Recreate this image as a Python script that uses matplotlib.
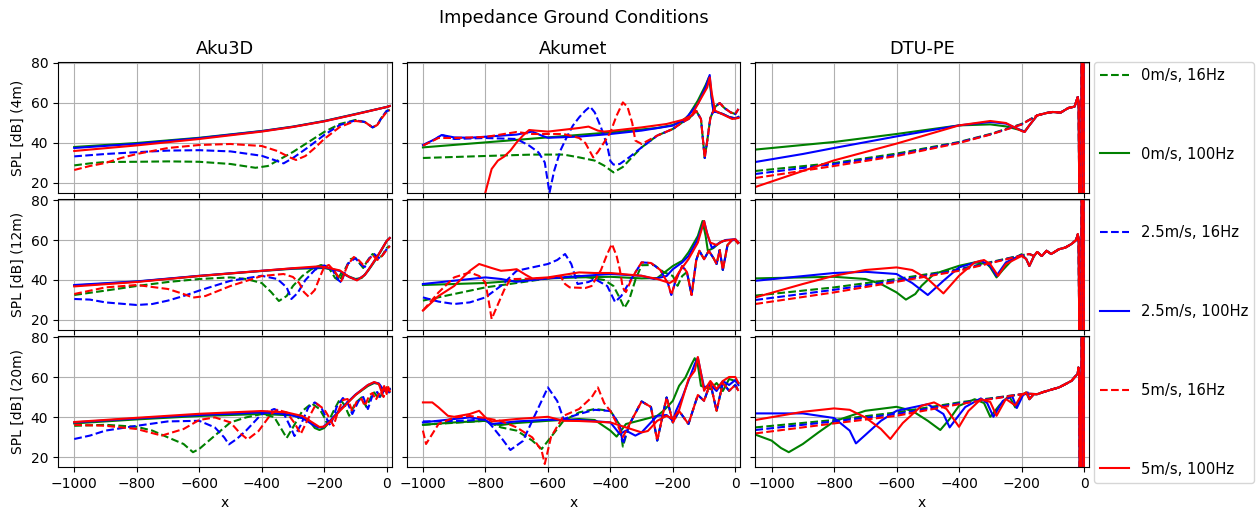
import numpy as np
import matplotlib
matplotlib.use("Agg")
import matplotlib.pyplot as plt

# ---------------- data (x, SPL) pairs ----------------
columns = ["Aku3D", "Akumet", "DTU-PE"]
rows = ["SPL [dB] (4m)", "SPL [dB] (12m)", "SPL [dB] (20m)"]
labels = ["0m/s, 16Hz", "0m/s, 100Hz", "2.5m/s, 16Hz", "2.5m/s, 100Hz", "5m/s, 16Hz", "5m/s, 100Hz"]

# ---- Aku3D 4m
A3_4_G16 = [(-1000,28.8),(-950,29.8),(-900,30.5),(-800,30.6),(-700,30.8),(-600,30.6),(-500,29.5),(-420,27.6),(-380,28.5),(-340,32),(-300,35.5),(-250,40.5),(-200,45.5),(-150,49.5),(-100,51.5),(-70,50.5),(-45,47.8),(-30,49),(-15,53),(0,56),(10,56.5)]
A3_4_G100 = [(-1000,38),(-800,40),(-600,42.6),(-400,46),(-300,48.2),(-200,51),(-100,54.5),(0,58),(10,58.5)]
A3_4_B16 = [(-1000,33.3),(-900,34.5),(-800,35.4),(-700,36.2),(-600,36.4),(-500,35.8),(-400,33.6),(-360,31.5),(-330,29.8),(-300,32.5),(-250,38),(-200,44),(-150,49),(-100,51.3),(-70,50.5),(-45,47.8),(-30,49),(-15,53),(0,56),(10,56.5)]
A3_4_B100 = [(-1000,37.5),(-800,39.6),(-600,42.4),(-400,45.9),(-300,48.1),(-200,50.9),(-100,54.4),(0,58),(10,58.5)]
A3_4_R16 = [(-1000,26.5),(-950,28.5),(-900,30),(-850,32.5),(-800,34.5),(-700,37.5),(-600,39),(-500,39.5),(-400,38.5),(-350,36),(-310,32.8),(-290,31.5),(-260,33.5),(-230,37.5),(-200,42),(-150,48),(-100,51),(-70,50.5),(-45,47.8),(-30,49),(-15,52.5),(0,55.5),(10,56.5)]
A3_4_R100 = [(-1000,36),(-800,38.8),(-600,42),(-400,45.7),(-300,48),(-200,50.8),(-100,54.3),(0,58),(10,58.5)]

# ---- Aku3D 12m
A3_12_G16 = [(-1000,32.5),(-900,34.7),(-800,37),(-700,39),(-600,40.5),(-500,41.3),(-450,40.5),(-400,38.5),(-370,34),(-345,29.5),(-320,32),(-300,37),(-270,42),(-240,45.5),(-210,47.5),(-185,46),(-165,41),(-150,39.6),(-135,45),(-115,50.5),(-100,51),(-85,48),(-75,46),(-60,50),(-45,53),(-30,51),(-15,52),(0,56),(10,57)]
A3_12_G100 = [(-1000,37.2),(-800,39.2),(-600,42),(-400,44.5),(-300,45.6),(-200,46),(-170,45),(-155,41),(-145,43.5),(-125,42),(-100,40.5),(-80,41),(-60,44.5),(-40,49),(-20,54),(0,59.5),(10,61)]
A3_12_B16 = [(-1000,30.5),(-950,30.2),(-900,28.8),(-800,27.5),(-750,28),(-700,29.7),(-650,32),(-600,34.7),(-500,39.6),(-400,42.1),(-350,40.5),(-320,36.3),(-305,30.5),(-285,33.5),(-260,40),(-230,45),(-200,47.3),(-175,45.5),(-155,40),(-145,38.8),(-125,48),(-100,51),(-85,48),(-70,46.5),(-55,51),(-40,53),(-25,51),(-10,53),(0,55.5),(10,57)]
A3_12_B100 = [(-1000,37.5),(-800,39.3),(-600,42.1),(-400,44.6),(-300,45.8),(-200,46.3),(-150,44.5),(-120,41.5),(-95,40),(-70,42.5),(-50,47),(-25,53),(0,59.5),(10,61)]
A3_12_R16 = [(-1000,33),(-900,36.3),(-800,37.5),(-700,35.5),(-650,33),(-620,31.2),(-580,32),(-500,37),(-400,42),(-330,43),(-300,41.5),(-280,38.5),(-265,34),(-250,31.7),(-230,35),(-215,41),(-200,46.5),(-185,47.5),(-165,44),(-145,39.5),(-125,47.5),(-105,51.5),(-90,50),(-75,47.5),(-60,49.5),(-45,52.5),(-30,50),(-15,52),(0,55),(10,57)]
A3_12_R100 = [(-1000,36.8),(-800,39),(-600,42),(-400,44.6),(-300,45.9),(-220,46.8),(-200,46.5),(-150,44.8),(-120,41.5),(-95,39.8),(-70,42.5),(-50,47),(-25,53),(0,59.5),(10,61)]

# ---- Aku3D 20m
A3_20_G16 = [(-1000,35.6),(-900,36.1),(-800,35.1),(-750,33.2),(-700,29.8),(-650,26.5),(-620,22.4),(-600,24),(-550,30.7),(-500,37.3),(-450,39.8),(-400,41.5),(-360,40),(-335,33.5),(-320,29.5),(-300,34.8),(-270,43),(-240,46.8),(-215,44),(-200,40),(-190,36.5),(-170,43),(-150,48.9),(-135,46),(-120,40.6),(-100,47),(-80,49.8),(-65,45),(-50,50),(-40,52.3),(-25,49),(-10,53),(0,54.8),(10,52)]
A3_20_G100 = [(-1000,36.8),(-800,38.8),(-600,40.5),(-400,41.5),(-300,40.8),(-250,38.5),(-230,34.5),(-215,33.5),(-200,34.5),(-180,38),(-150,43.5),(-100,51),(-60,55.5),(-40,57),(-25,56.5),(-10,53),(0,53),(10,54)]
A3_20_B16 = [(-1000,29),(-950,30.7),(-900,33.2),(-800,35.6),(-700,37.8),(-600,38.1),(-550,34.8),(-520,29.8),(-505,26.3),(-480,29),(-450,33.2),(-400,41.5),(-360,44),(-330,42),(-305,34),(-295,30.5),(-275,36),(-250,45),(-230,47.3),(-210,45),(-195,40),(-180,35.6),(-160,45),(-140,49.5),(-125,47),(-110,41.5),(-90,48),(-75,50),(-60,44),(-45,51),(-30,52.5),(-20,49.5),(-10,53),(0,54.5),(10,52)]
A3_20_B100 = [(-1000,37.3),(-800,39.3),(-600,41),(-400,42.3),(-320,41.5),(-270,39.5),(-240,36.5),(-220,34.8),(-205,34.8),(-185,37.5),(-150,43.5),(-100,51.2),(-60,56),(-40,57.3),(-25,56.8),(-10,53.5),(0,53.5),(10,54)]
A3_20_R16 = [(-1000,36.1),(-900,35.6),(-800,34),(-720,30.7),(-650,34),(-600,38.5),(-550,39.8),(-500,37.3),(-470,32),(-445,28.8),(-410,33),(-370,41.5),(-350,43.6),(-320,42.3),(-295,37),(-275,31.5),(-255,38),(-225,46.8),(-200,43.9),(-185,40),(-170,35.6),(-155,43),(-140,48.5),(-125,49),(-110,43),(-95,48),(-80,49),(-70,45.5),(-55,51),(-45,52),(-35,48.5),(-20,53),(-10,50),(0,54.8),(10,52)]
A3_20_R100 = [(-1000,37.5),(-800,39.6),(-600,41.6),(-400,43),(-320,42.3),(-270,40.5),(-240,37.5),(-215,35),(-200,35.2),(-180,37.8),(-150,43),(-100,51),(-60,56),(-40,57.5),(-25,56.5),(-15,52),(-8,55.5),(0,51.5),(5,55),(10,53)]

# ---- Akumet 4m
AK_4_G16 = [(-1000,32.5),(-800,33.5),(-650,34.2),(-550,34.2),(-500,32.8),(-450,31.2),(-420,28.7),(-390,25.3),(-360,28),(-330,33),(-300,37.8),(-250,43.7),(-200,47),(-170,50.3),(-150,52),(-125,56),(-110,52),(-98,32.5),(-90,41),(-80,52.5),(-65,58),(-50,60),(-35,57.5),(-15,55.3),(0,54.5),(10,57)]
AK_4_G100 = [(-1000,37.8),(-800,40.3),(-600,42.8),(-400,45.3),(-250,47.5),(-200,49),(-170,51),(-150,53.7),(-120,61.2),(-95,69),(-84,73),(-77,64),(-70,56),(-60,55.5),(-40,54.5),(-20,53),(0,52.3),(10,53)]
AK_4_B16 = [(-1000,38.7),(-960,42),(-940,44),(-900,42),(-800,42.5),(-700,42),(-660,38.7),(-630,35.3),(-610,30.3),(-600,20.3),(-595,15),(-580,26),(-560,36.2),(-540,42.8),(-520,48.7),(-500,52.8),(-480,56.2),(-465,58.2),(-450,55.3),(-430,47.8),(-410,38.7),(-400,31),(-390,29.2),(-370,29.5),(-340,32.8),(-300,37.8),(-250,43.7),(-200,47),(-170,50.3),(-150,52),(-125,56),(-110,52),(-98,32.5),(-90,41),(-80,52.5),(-65,58),(-50,60),(-35,57.5),(-15,55.3),(0,54.5),(10,57)]
AK_4_B100 = [(-1000,39),(-960,42),(-940,44),(-900,42.8),(-850,42.6),(-700,44.2),(-650,45.7),(-620,43.7),(-600,42.6),(-500,43.2),(-400,44.5),(-300,46.2),(-200,48.7),(-160,52),(-120,59.5),(-95,68),(-82,74),(-76,63),(-70,55.5),(-60,55.5),(-40,54.5),(-20,53),(0,52.3),(10,53)]
AK_4_R16 = [(-1000,38.7),(-950,42.5),(-900,42.5),(-800,43),(-700,45.5),(-650,44.5),(-550,44.5),(-500,42.5),(-480,40),(-455,32.8),(-440,35.5),(-420,40.3),(-400,45.3),(-380,53.7),(-360,60.3),(-345,58),(-330,50),(-320,41.2),(-300,39.5),(-250,43.7),(-200,47),(-170,50.3),(-150,52),(-125,56),(-110,52),(-98,32.5),(-90,41),(-80,52.5),(-65,58),(-50,60),(-35,57.5),(-15,55.3),(0,54.5),(10,57)]
AK_4_R100 = [(-805,10),(-800,15.3),(-780,27),(-760,31.2),(-740,33.2),(-720,36.2),(-700,40.3),(-680,43.7),(-660,46.5),(-640,46.2),(-600,45.7),(-500,47.5),(-470,48.2),(-440,46.2),(-420,45.7),(-400,46),(-300,47.8),(-220,49.5),(-170,51.5),(-140,53.7),(-120,59.5),(-90,67.8),(-82,72.8),(-75,64.5),(-65,56.2),(-50,55),(-30,53.5),(-10,52),(10,52.5)]

# ---- Akumet 12m
AK_12_G16 = [(-1000,29.7),(-900,33),(-800,36.3),(-700,38.5),(-600,40.8),(-500,42.1),(-420,40),(-390,37),(-370,31),(-355,26),(-340,30),(-320,40),(-300,47.4),(-260,47.5),(-230,44),(-200,42),(-185,37.1),(-170,42),(-155,44),(-140,32.5),(-125,50),(-115,54.6),(-100,50.4),(-85,54.6),(-70,51),(-60,48),(-50,55),(-40,45),(-25,57.5),(-10,60),(0,60),(10,58)]
AK_12_G100 = [(-1000,37.5),(-800,38.5),(-600,40.8),(-500,41.3),(-400,41.6),(-300,40.8),(-250,41),(-200,47),(-170,49.6),(-150,53.8),(-120,62),(-105,69.5),(-95,62),(-88,54.6),(-70,56),(-50,58.7),(-30,60),(0,60),(10,58.7)]
AK_12_B16 = [(-1000,31.3),(-950,29.2),(-900,28),(-850,28.8),(-800,31.3),(-750,37.1),(-700,44.6),(-650,46.3),(-600,48),(-570,50),(-545,53),(-525,48),(-505,38),(-470,39),(-450,40.5),(-410,37),(-385,29),(-365,32),(-330,41.3),(-300,48.8),(-270,48.5),(-240,45),(-215,38),(-205,32.5),(-190,40),(-170,47),(-155,44),(-140,32.5),(-125,50),(-115,54.6),(-100,50.4),(-85,54.6),(-70,51),(-60,48),(-50,55),(-40,45),(-25,57.5),(-10,60),(0,60),(10,58)]
AK_12_B100 = [(-1000,38),(-800,41.3),(-750,40.5),(-700,39.1),(-600,40.8),(-400,43),(-300,42.1),(-260,40.5),(-220,42),(-200,45.4),(-170,48.8),(-150,52),(-120,60.4),(-100,69.5),(-88,62),(-75,56),(-50,58.7),(-30,60),(0,60.4),(10,58.7)]
AK_12_R16 = [(-1000,24.7),(-950,33.8),(-900,41.3),(-850,43.8),(-820,42),(-800,38.8),(-790,30),(-780,20.5),(-765,26),(-740,35),(-720,40.5),(-700,40.5),(-600,41),(-560,42),(-545,38),(-530,36.3),(-480,36),(-460,37),(-430,45),(-410,53),(-395,58),(-380,52),(-370,45.4),(-360,36),(-350,34),(-330,41.3),(-300,48.8),(-270,48.5),(-240,45),(-215,38),(-205,32.5),(-190,40),(-170,47),(-155,44),(-140,32.5),(-125,50),(-115,54.6),(-100,50.4),(-85,54.6),(-70,51),(-60,48),(-50,55),(-40,45),(-25,57.5),(-10,60),(0,60),(10,58)]
AK_12_R100 = [(-1000,24.7),(-950,32),(-900,37),(-850,44.6),(-820,48),(-780,46),(-750,44.6),(-720,45),(-700,45.4),(-670,42.5),(-650,40.8),(-600,41.3),(-500,43.8),(-450,43.5),(-400,43.5),(-300,42.1),(-250,40.5),(-210,38.5),(-195,40),(-180,44),(-150,50.4),(-120,58.7),(-100,69.5),(-92,64),(-80,58.7),(-60,57.5),(-40,59.5),(0,60.4),(10,58.7)]

# ---- Akumet 20m
AK_20_G16 = [(-1000,36.1),(-800,38.1),(-750,34.8),(-700,33.2),(-650,28.2),(-620,24),(-600,28),(-550,38.1),(-500,42.3),(-450,44),(-400,43.1),(-370,36),(-360,25.2),(-340,36),(-300,47.8),(-270,45),(-250,28.2),(-220,49.8),(-200,37.3),(-180,43),(-150,36.5),(-120,51),(-100,48.1),(-80,57),(-60,43.1),(-40,57),(-20,53.1),(0,56),(10,53)]
AK_20_G100 = [(-1000,36.1),(-900,37.3),(-800,38.1),(-780,36.5),(-750,36),(-700,37),(-600,38.1),(-500,39),(-450,38.5),(-400,33.2),(-380,30.2),(-350,36.5),(-300,38.5),(-250,40.6),(-230,43.1),(-200,48.1),(-180,55.6),(-160,59.7),(-140,66.4),(-130,69.4),(-120,66),(-110,55.6),(-100,55),(-80,54),(-60,57),(-40,53),(-20,59),(0,58),(10,57)]
AK_20_B16 = [(-1000,37.8),(-900,38),(-850,38.3),(-800,39),(-780,35.6),(-750,29.8),(-720,23.5),(-680,28),(-650,38.1),(-620,48.1),(-600,54.8),(-570,48),(-550,39),(-500,41.5),(-450,43.6),(-400,43),(-370,36),(-360,26.5),(-340,36),(-300,47.8),(-270,45),(-250,28.2),(-220,49.8),(-200,37.3),(-180,43),(-150,36.5),(-120,51),(-100,48.1),(-80,57),(-60,43.1),(-40,57),(-20,53.1),(0,56),(10,53)]
AK_20_B100 = [(-1000,37.3),(-900,39),(-850,39.8),(-800,38.5),(-780,36.5),(-700,37.8),(-600,38.6),(-500,38.5),(-400,37.3),(-370,31.5),(-350,33.2),(-320,30.7),(-300,32.3),(-250,40.6),(-220,41),(-200,38.1),(-190,43),(-170,49.8),(-150,58.1),(-130,66.4),(-120,69.7),(-110,62),(-100,54.8),(-80,56),(-60,53),(-40,58),(-20,56),(0,58.5),(10,56)]
AK_20_R16 = [(-1000,33.2),(-990,26.5),(-950,36.5),(-900,39.8),(-850,40.5),(-800,39.5),(-750,38),(-700,34.8),(-650,29.8),(-620,23.2),(-610,16.5),(-590,30),(-550,40.6),(-500,44),(-460,49.8),(-440,54.8),(-420,47),(-400,43),(-380,37),(-360,30),(-340,36),(-300,47.8),(-270,45),(-250,28.2),(-220,49.8),(-200,37.3),(-180,43),(-150,36.5),(-120,51),(-100,48.1),(-80,57),(-60,43.1),(-40,57),(-20,53.1),(0,56),(10,53)]
AK_20_R100 = [(-1000,47.3),(-970,47.3),(-950,44.8),(-920,40.6),(-900,40.1),(-850,41.5),(-820,43.1),(-800,39.8),(-780,37.8),(-700,39),(-600,40.1),(-550,38.1),(-500,38),(-400,37.3),(-350,34.8),(-300,32.3),(-280,33),(-250,38.1),(-220,40.6),(-200,39),(-180,43.5),(-150,58.9),(-130,63.1),(-120,70),(-110,62),(-100,53.1),(-80,58),(-60,54),(-40,58),(-20,60),(0,60),(10,57)]

# ---- DTU-PE (shared near-source tails per receiver height)
DT_4_TAIL = [(-150,53.8),(-120,55),(-100,55.5),(-75,55.2),(-50,57.5),(-30,58.2),(-20,63),(-17,60),(-14,-20),(-9,-20),(-7,120),(-2,120),(0,-20)]
DT_4_G16 = [(-1052,26),(-800,30),(-600,34.7),(-400,40.5),(-300,44.5),(-200,49.5),(-170,52)]
DT_4_G100 = [(-1052,36.7),(-900,39),(-800,40.5),(-600,44.5),(-400,48.8),(-300,49.3),(-250,48.3),(-200,46.3),(-190,45.8),(-175,48.8)]
DT_4_B16 = [(-1052,24.5),(-800,29.5),(-600,34),(-400,40.3),(-300,44.3),(-200,49.3),(-170,52)]
DT_4_B100 = [(-1052,30.5),(-900,34.5),(-800,37.5),(-600,43.3),(-400,48.8),(-300,50.5),(-250,49.7),(-200,46.3),(-190,45.5),(-175,48.8)]
DT_4_R16 = [(-1052,22.5),(-800,28.5),(-600,33.5),(-400,40),(-300,44.2),(-200,49.2),(-170,52)]
DT_4_R100 = [(-1052,18),(-900,26),(-800,31.3),(-600,39.7),(-400,48.8),(-300,51),(-250,50),(-200,46),(-190,45.5),(-175,48.8)]

DT_12_TAIL = [(-160,52),(-150,54),(-135,52),(-120,54.6),(-105,53),(-80,55.4),(-60,56.2),(-40,58),(-25,60),(-20,62.9),(-17,60),(-14,-20),(-9,-20),(-7,120),(-2,120),(0,-20)]
DT_12_G16 = [(-1052,32.2),(-800,36.3),(-600,40.5),(-400,45.4),(-200,52.4),(-175,53)]
DT_12_G100 = [(-1052,40.8),(-900,41.3),(-800,41.6),(-700,40.5),(-650,38),(-600,33.8),(-570,30.2),(-540,33),(-520,37.1),(-480,43),(-400,47.1),(-350,48.8),(-310,48),(-300,46.3),(-280,41.3),(-260,45),(-230,50),(-200,52.9),(-185,50.5),(-175,47)]
DT_12_B16 = [(-1052,30),(-800,35.1),(-600,39.6),(-400,45),(-200,52.3),(-175,53)]
DT_12_B100 = [(-1052,39.6),(-800,43.5),(-700,44.1),(-600,43),(-550,38.5),(-500,32.5),(-450,39.6),(-400,46.3),(-330,49.6),(-300,47.1),(-280,42.1),(-250,48.8),(-200,52.5),(-185,50.5),(-175,47)]
DT_12_R16 = [(-1052,28),(-800,33.8),(-600,39.1),(-400,44.6),(-200,52.2),(-175,53)]
DT_12_R100 = [(-1052,31.3),(-900,38),(-800,42.1),(-700,45),(-600,46.3),(-550,45),(-500,40.5),(-450,33.3),(-400,42.1),(-350,48.8),(-320,50),(-300,47.9),(-275,42.1),(-250,48),(-200,52),(-185,50.5),(-175,47)]

DT_20_TAIL = [(-160,51.5),(-150,51.4),(-130,52.5),(-100,53.9),(-80,54.8),(-60,56.4),(-40,58.1),(-20,61.7),(-18,64.7),(-15,60),(-13,-20),(-9,-20),(-7,120),(-2,120),(0,-20)]
DT_20_G16 = [(-1052,34.8),(-800,38.5),(-600,42.3),(-400,47.3),(-200,51.4),(-175,51.6)]
DT_20_G100 = [(-1052,31.2),(-1000,28.2),(-970,24.5),(-945,22.4),(-900,26.5),(-850,32.3),(-800,37.8),(-700,43.1),(-600,45.1),(-550,43.1),(-500,38.1),(-460,33.5),(-430,39),(-400,45.6),(-350,48.9),(-320,47),(-300,40.1),(-270,46),(-240,50.6),(-220,44.8),(-200,51),(-185,52.3),(-175,48.9)]
DT_20_B16 = [(-1052,33.5),(-800,37.8),(-600,41.5),(-400,46.8),(-200,51.4),(-175,51.6)]
DT_20_B100 = [(-1052,41.8),(-900,41.8),(-800,39.5),(-750,33.2),(-730,26.8),(-700,31),(-650,38.1),(-600,43.1),(-500,46.4),(-450,41.5),(-430,34.8),(-400,41),(-380,45),(-330,49.3),(-310,47),(-290,40.1),(-260,48),(-230,50.5),(-215,44.5),(-195,51),(-180,52.3),(-175,48.9)]
DT_20_R16 = [(-1052,31.8),(-800,36.8),(-600,40.6),(-400,46.4),(-200,51.4),(-175,51.6)]
DT_20_R100 = [(-1052,38.5),(-900,42.6),(-800,44.3),(-750,43.6),(-700,39.8),(-650,34),(-620,29),(-580,37),(-520,45.6),(-480,47.3),(-440,44),(-400,35.1),(-370,43),(-330,48.9),(-300,47.5),(-280,40.6),(-250,49),(-220,45.8),(-200,51),(-185,52.3),(-175,48.9)]

# ---------------- assemble ----------------
panels = [
    [[A3_4_G16, A3_4_G100, A3_4_B16, A3_4_B100, A3_4_R16, A3_4_R100],
     [AK_4_G16, AK_4_G100, AK_4_B16, AK_4_B100, AK_4_R16, AK_4_R100],
     [s + DT_4_TAIL for s in (DT_4_G16, DT_4_G100, DT_4_B16, DT_4_B100, DT_4_R16, DT_4_R100)]],
    [[A3_12_G16, A3_12_G100, A3_12_B16, A3_12_B100, A3_12_R16, A3_12_R100],
     [AK_12_G16, AK_12_G100, AK_12_B16, AK_12_B100, AK_12_R16, AK_12_R100],
     [s + DT_12_TAIL for s in (DT_12_G16, DT_12_G100, DT_12_B16, DT_12_B100, DT_12_R16, DT_12_R100)]],
    [[A3_20_G16, A3_20_G100, A3_20_B16, A3_20_B100, A3_20_R16, A3_20_R100],
     [AK_20_G16, AK_20_G100, AK_20_B16, AK_20_B100, AK_20_R16, AK_20_R100],
     [s + DT_20_TAIL for s in (DT_20_G16, DT_20_G100, DT_20_B16, DT_20_B100, DT_20_R16, DT_20_R100)]],
]
colors = ["green", "green", "blue", "blue", "red", "red"]
styles = ["--", "-", "--", "-", "--", "-"]

W, H = 1259, 511
fig, axes = plt.subplots(3, 3, figsize=(W / 100, H / 100), dpi=100, sharex=True, sharey=True,
                         gridspec_kw=dict(left=58 / W, right=1089 / W, top=1 - 62 / H,
                                          bottom=1 - 467 / H, wspace=0.045, hspace=0.046))

handles = []
for r in range(3):
    for c in range(3):
        ax = axes[r, c]
        for k, series in enumerate(panels[r][c]):
            arr = np.array(series, dtype=float)
            ln, = ax.plot(arr[:, 0], arr[:, 1], color=colors[k], linestyle=styles[k],
                          linewidth=1.5, label=labels[k])
            if r == 0 and c == 0:
                handles.append(ln)
        ax.grid(True)
        if r == 0:
            ax.set_title(columns[c], fontsize=12.8)
        if c == 0:
            ax.set_ylabel(rows[r])
        if r == 2:
            ax.set_xlabel("x")

axes[0, 0].set_xlim(-1052, 16)
axes[0, 0].set_ylim(15, 80.5)
axes[0, 0].set_yticks([20, 40, 60, 80])
axes[0, 0].set_xticks([-1000, -800, -600, -400, -200, 0])

fig.suptitle("Impedance Ground Conditions", x=(58 + 1089) / 2 / W, y=1 - 9 / H, fontsize=12.8)
fig.legend(handles, labels, loc="upper left", bbox_to_anchor=(1094 / W, 1 - 62 / H),
           labelspacing=4.33, borderaxespad=0.0, fontsize=10.6)

fig.savefig("out.png", dpi=100)
